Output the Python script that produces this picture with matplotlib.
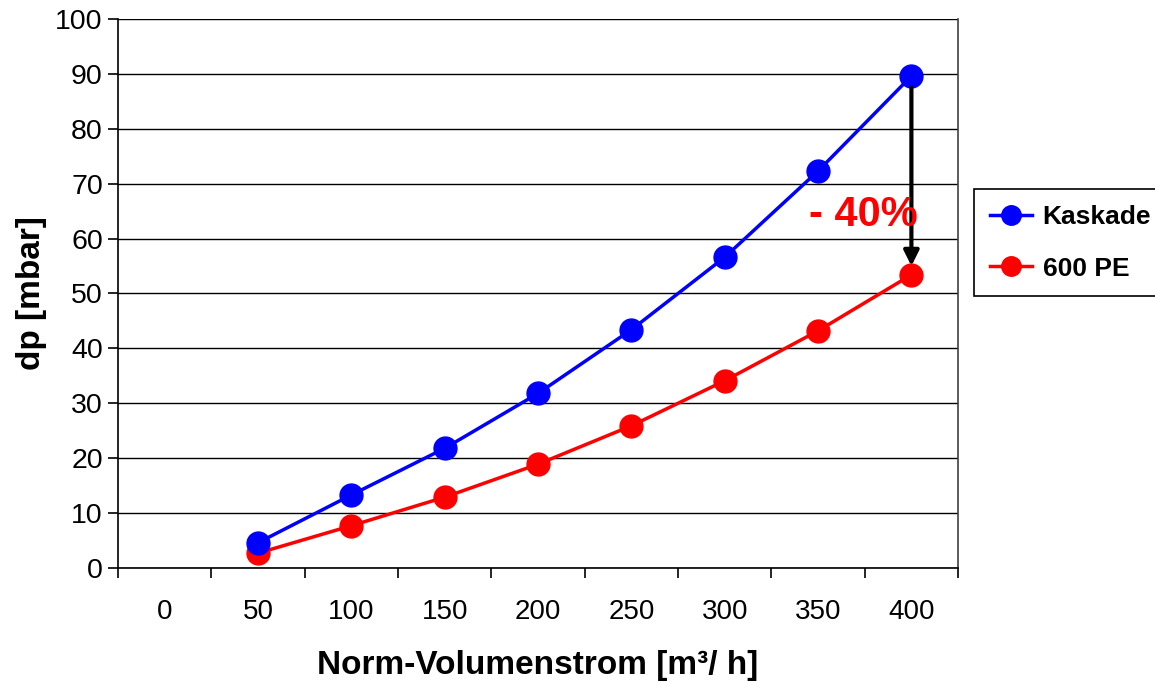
import numpy as np
import matplotlib.pyplot as plt

plt.rcParams['font.family'] = ['Liberation Sans', 'DejaVu Sans']

# Daten (Kategorie "0" hat keinen Wert)
categories = ["0", "50", "100", "150", "200", "250", "300", "350", "400"]
kaskade = [np.nan, 4.6, 13.3, 21.8, 31.8, 43.4, 56.6, 72.3, 89.6]
pe600 = [np.nan, 2.7, 7.7, 12.9, 18.9, 25.9, 34.1, 43.2, 53.4]

x = np.arange(len(categories))

fig = plt.figure(figsize=(11.55, 6.82), dpi=100)
ax = fig.add_axes([0.1022, 0.1672, 0.7273, 0.8050])

ax.plot(x, kaskade, color="#0000FF", lw=2.5, marker="o", ms=16.5, label="Kaskade", zorder=4)
ax.plot(x, pe600, color="#FF0000", lw=2.5, marker="o", ms=16.5, label="600 PE", zorder=3)

ax.set_xlim(-0.5, len(categories) - 0.5)
ax.set_ylim(0, 100)

# Ticks zwischen den Kategorien, Beschriftung in der Mitte
ax.set_xticks(np.arange(-0.5, len(categories), 1.0))
ax.set_xticklabels([])
ax.set_xticks(x, minor=True)
ax.set_xticklabels(categories, minor=True, fontsize=20)
ax.tick_params(axis="x", which="major", length=7, width=1.2, direction="out")
ax.tick_params(axis="x", which="minor", length=0, pad=22)

ax.set_yticks(np.arange(0, 101, 10))
ax.tick_params(axis="y", labelsize=20.5, length=7, width=1.2, direction="out", pad=4)

ax.yaxis.grid(True, color="black", lw=1.0)
ax.set_axisbelow(True)
ax.spines["top"].set_visible(False)
ax.spines["left"].set_linewidth(1.2)
ax.spines["bottom"].set_linewidth(1.2)
ax.spines["right"].set_color("#404040")
ax.spines["right"].set_linewidth(1.2)

ax.set_xlabel("Norm-Volumenstrom [m³/ h]", fontsize=24, fontweight="bold", labelpad=18)
ax.set_ylabel("dp [mbar]", fontsize=24, fontweight="bold", labelpad=6)

# Pfeil -40 %
ax.annotate("", xy=(8, 54.5), xytext=(8, 88),
            arrowprops=dict(arrowstyle="-|>,head_width=0.45,head_length=0.9",
                            color="black", lw=3), zorder=5)
ax.text(8.07, 64.3, "- 40%", color="#FF0000", fontsize=30, fontweight="bold",
        ha="right", va="center", zorder=6)

leg = fig.legend(loc="upper left", bbox_to_anchor=(974 / 1155, 1 - 189 / 682),
                 borderaxespad=0, prop={"weight": "bold", "size": 19},
                 frameon=True, fancybox=False, edgecolor="black", framealpha=1,
                 handlelength=1.6, handletextpad=0.4, labelspacing=1.05,
                 borderpad=0.6, markerscale=0.85)
leg.get_frame().set_linewidth(1.2)

fig.savefig("out.png", dpi=100)
